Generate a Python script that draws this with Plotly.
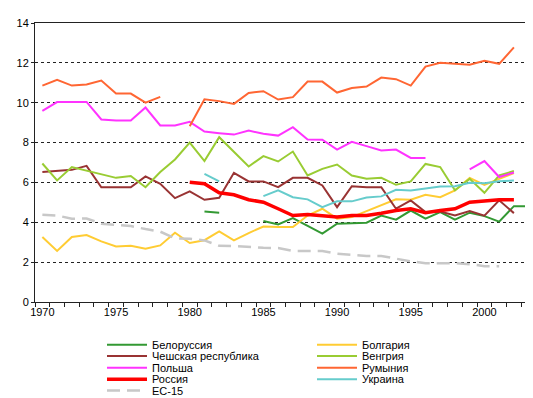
import plotly.graph_objects as go

years = list(range(1970, 2004))

belarus = [None]*11 + [4.54, 4.48, None, None,
           4.06, 3.89, 4.21, 3.81, 3.43, 3.93, 3.96, 3.98, 4.34, 4.13,
           4.59, 4.18, 4.51, 4.13, 4.48, 4.31, 4.03, 4.81, 4.81]
bulgaria = [3.26, 2.56, 3.26, 3.36, 3.04, 2.79, 2.82, 2.67, 2.84, 3.48,
            2.96, 3.10, 3.54, 3.09, 3.46, 3.79, 3.76, 3.76, 4.34, 4.68,
            4.18, 4.26, 4.56, 4.87, 5.15, 5.13, 5.38, 5.26, 5.60, 6.23,
            5.88, 6.18, 6.47, None]
czech = [6.52, 6.57, 6.63, 6.83, 5.76, 5.76, 5.76, 6.30, 5.93, 5.21,
         5.55, 5.13, 5.23, 6.48, 6.05, 6.05, 5.76, 6.23, 6.23, 5.85,
         4.76, 5.81, 5.76, 5.76, 4.68, 5.10, 4.51, 4.54, 4.34, 4.56,
         4.33, 5.10, 4.46, None]
hungary = [6.95, 6.10, 6.77, 6.60, 6.42, 6.23, 6.32, 5.76, 6.52, 7.15,
           8.00, 7.07, 8.27, 7.55, 6.80, 7.32, 7.05, 7.55, 6.35, 6.68,
           6.90, 6.35, 6.18, 6.23, 5.88, 6.05, 6.93, 6.77, 5.60, 6.18,
           5.48, 6.35, 6.57, None]
poland = [9.59, 10.03, 10.04, 10.04, 9.16, 9.11, 9.11, 9.76, 8.86, 8.86,
          9.04, 8.55, 8.47, 8.40, 8.60, 8.44, 8.35, 8.77, 8.15, 8.14,
          7.65, 8.04, 7.82, 7.60, 7.65, 7.23, 7.23, None, None, 6.65,
          7.07, 6.27, 6.50, None]
romania = [10.86, 11.15, 10.86, 10.91, 11.11, 10.46, 10.46, 10.00, 10.29, None,
           8.82, 10.17, 10.08, 9.94, 10.49, 10.58, 10.16, 10.28, 11.06, 11.06,
           10.51, 10.74, 10.81, 11.26, 11.18, 10.86, 11.81, 12.01, 11.95, 11.91,
           12.11, 11.95, 12.78, None]
russia = [None]*10 + [6.01, 5.93, 5.48, 5.38, 5.13, 5.01, 4.68, 4.34, 4.39, 4.34,
                      4.26, 4.34, 4.34, 4.45, 4.59, 4.68, 4.48, 4.59, 4.68, 5.01,
                      5.06, 5.13, 5.13, None]
ukraine = [None]*11 + [6.43, 6.05, None, None,
                       5.31, 5.60, 5.26, 5.15, 4.76, 5.05, 5.05, 5.24, 5.30, 5.63,
                       5.60, 5.71, 5.80, 5.81, 5.98, 5.96, 6.06, 6.10, None]
eu15 = [4.38, 4.34, 4.18, 4.19, 3.93, 3.86, 3.81, 3.66, 3.53, 3.20,
        3.17, 3.09, 2.82, 2.81, 2.76, 2.72, 2.71, 2.56, 2.56, 2.56,
        2.42, 2.37, 2.31, 2.31, 2.17, 2.04, 1.95, 1.95, 1.95, 1.90,
        1.80, 1.80, None, None]

x_tick_years = [1970, 1975, 1980, 1985, 1990, 1995, 2000]
y_ticks = [0, 2, 4, 6, 8, 10, 12, 14]

series = [
    ("Белоруссия", belarus, "#339933", 2, "solid"),
    ("Болгария", bulgaria, "#FFCC33", 2, "solid"),
    ("Чешская республика", czech, "#993333", 2, "solid"),
    ("Венгрия", hungary, "#99CC33", 2, "solid"),
    ("Польша", poland, "#FF33FF", 2, "solid"),
    ("Румыния", romania, "#FF6633", 2, "solid"),
    ("Россия", russia, "#FF0000", 3.5, "solid"),
    ("Украина", ukraine, "#66CCCC", 2, "solid"),
    ("ЕС-15", eu15, "#C8C8C8", 2.5, "13px,7px"),
]

FONT = "Liberation Sans, Arial, sans-serif"
W, H = 533, 398
ML, MR, MT, MB = 27, 5, 15, 104
PW, PH = W - ML - MR, H - MT - MB

fig = go.Figure()
for name, vals, color, width, dash in series:
    fig.add_trace(go.Scatter(x=years, y=vals, mode="lines", name=name,
                             line=dict(color=color, width=width, dash=dash),
                             showlegend=False))

# manual legend (two columns, row-major order)
def px2paper(px, py):
    return (px - ML) / PW, (H - MB - py) / PH

rows_y = [336.7, 348.0, 359.7, 371.3, 382.5]
cols_x = [99, 309]
for idx, (name, vals, color, width, dash) in enumerate(series):
    r, c = divmod(idx, 2)
    x0 = cols_x[c]
    y = rows_y[r]
    xa, ya = px2paper(x0, y)
    xb, _ = px2paper(x0 + 40, y)
    xt, _ = px2paper(x0 + 43, y)
    fig.add_shape(type="line", xref="paper", yref="paper", x0=xa, x1=xb, y0=ya, y1=ya,
                  line=dict(color=color, width=width, dash=dash))
    fig.add_annotation(xref="paper", yref="paper", x=xt, y=ya, text=name,
                       showarrow=False, xanchor="left", yanchor="middle",
                       font=dict(family=FONT, size=11, color="black"))

fig.update_layout(
    width=W, height=H,
    margin=dict(l=ML, r=MR, t=MT, b=MB),
    paper_bgcolor="white", plot_bgcolor="white",
    font=dict(family=FONT, size=11, color="black"),
    showlegend=False,
)
fig.update_xaxes(
    range=[1969.5, 2003.5],
    tickmode="array", tickvals=x_tick_years, ticktext=[str(v) for v in x_tick_years],
    ticks="", showgrid=False, zeroline=False,
    showline=True, linecolor="#222222", linewidth=1, mirror=True,
    minor=dict(tickmode="linear", tick0=1969.5, dtick=1, ticks="outside",
               ticklen=4, tickcolor="#222222", showgrid=False),
    tickfont=dict(family=FONT, size=11, color="black"),
)
fig.update_yaxes(
    range=[0, 14], tickmode="array", tickvals=y_ticks,
    ticks="outside", ticklen=3, tickcolor="#222222",
    showgrid=True, gridcolor="#222222", griddash="3px,3px", gridwidth=1,
    zeroline=False, showline=True, linecolor="#222222", linewidth=1, mirror=True,
    tickfont=dict(family=FONT, size=11, color="black"),
)

fig.write_html("out.html")
